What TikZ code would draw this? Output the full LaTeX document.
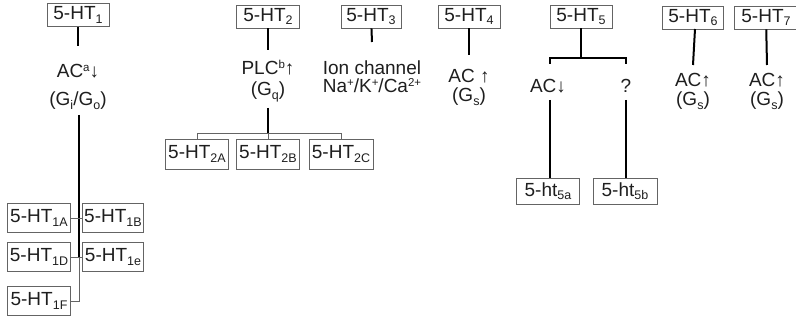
\documentclass[tikz,border=0pt]{standalone}
\usepackage{fontspec}
\setmainfont{Liberation Sans}
\definecolor{boxgray}{RGB}{100,100,100}
\definecolor{inkc}{RGB}{30,30,30}
\newcommand\mysub[1]{\raisebox{-0.35ex}{\fontsize{12.5}{12.5}\selectfont #1}}
\newcommand\mysup[1]{\raisebox{0.6ex}{\fontsize{11.5}{11.5}\selectfont #1}}
\begin{document}
\begin{tikzpicture}[x=1pt,y=-1pt,
  every node/.style={text=inkc},
  rbox/.style={draw=boxgray, line width=0.9pt, inner sep=0pt, minimum height=23pt, font=\fontsize{19}{20}\selectfont},
  lbox/.style={rbox, minimum height=29pt, minimum width=63pt},
  lab/.style={inner sep=0pt, font=\fontsize{19}{20}\selectfont, align=center},
  stem/.style={draw=black, line width=2pt},
  thinl/.style={draw=boxgray, line width=0.9pt}]
\useasboundingbox (0,0) rectangle (796,321);
% ---- top receptor boxes
\node[rbox, minimum width=62pt] (b1) at (78,15) {5-HT\mysub{1}};
\node[rbox, minimum width=63pt] (b2) at (268,16.5) {5-HT\mysub{2}};
\node[rbox, minimum width=60pt] (b3) at (371,16.5) {5-HT\mysub{3}};
\node[rbox, minimum width=62pt] (b4) at (469,16.5) {5-HT\mysub{4}};
\node[rbox, minimum width=62pt] (b5) at (581,16.5) {5-HT\mysub{5}};
\node[rbox, minimum width=61pt] (b6) at (693,17.5) {5-HT\mysub{6}};
\node[rbox, minimum width=64pt] (b7) at (766,17.5) {5-HT\mysub{7}};
% ---- 5-HT1 family
\node[lab] (ac1) at (78,71) {AC\mysup{a}↓};
\node[lab] (g1) at (78,101) {(G\mysub{i}/G\mysub{o})};
\coordinate (s1) at (78,46);
\draw[stem] (b1) -- (s1);
\node[lbox] (h1a) at (39,218) {5-HT\mysub{1A}};
\node[lbox, minimum width=61pt] (h1b) at (113,218) {5-HT\mysub{1B}};
\node[lbox] (h1d) at (39,257) {5-HT\mysub{1D}};
\node[lbox, minimum width=61pt] (h1e) at (113,257) {5-HT\mysub{1e}};
\node[lbox] (h1f) at (39,301) {5-HT\mysub{1F}};
\coordinate (t1) at (79,115);
\coordinate (t2) at (79,257);
\coordinate (t3) at (79,301);
\draw[stem] (t1) -- (t2);
\draw[thinl] (t2) -- (t3) -- (h1f.east);
\draw[thinl] (h1a.east) -- (h1b.west);
\draw[thinl] (h1d.east) -- (h1e.west);
% ---- 5-HT2 family
\node[lab] (plc) at (268,68) {PLC\mysup{b}↑};
\node[lab] (gq) at (268,92) {(G\mysub{q})};
\coordinate (s2) at (268,50);
\draw[stem] (b2) -- (s2);
\node[rbox, minimum width=63pt, minimum height=30pt] (h2a) at (197,154) {5-HT\mysub{2A}};
\node[rbox, minimum width=63pt, minimum height=30pt] (h2b) at (268,154) {5-HT\mysub{2B}};
\node[rbox, minimum width=64pt, minimum height=30pt] (h2c) at (341,154) {5-HT\mysub{2C}};
\coordinate (u2) at (268,108);
\coordinate (k2) at (268,133);
\coordinate (k2l) at (197,133);
\coordinate (k2r) at (341,133);
\draw[stem] (u2) -- (k2);
\draw[thinl] (h2a.north) -- (k2l) -- (k2r) -- (h2c.north);
\draw[thinl] (k2) -- (h2b.north);
% ---- 5-HT3
\node[lab] (ion) at (372,77) {Ion channel\\[-2pt]Na\mysup{+}/K\mysup{+}/Ca\mysup{2+}};
\coordinate (s3) at (372,42);
\draw[stem] (b3) -- (s3);
% ---- 5-HT4
\node[lab] (ac4) at (469,76) {AC ↑};
\node[lab] (g4) at (469,97) {(G\mysub{s})};
\coordinate (s4) at (469,55);
\draw[stem] (b4) -- (s4);
% ---- 5-HT5
\coordinate (s5) at (581,58);
\coordinate (k5l) at (550,58);
\coordinate (k5r) at (626,58);
\coordinate (k5ld) at (550,64);
\coordinate (k5rd) at (626,64);
\draw[stem] (b5) -- (s5);
\draw[stem] (k5ld) -- (k5l) -- (k5r) -- (k5rd);
\node[lab] (ac5) at (548,86) {AC↓};
\node[lab] (q5) at (626,86) {?};
\node[rbox, minimum width=63pt, minimum height=26pt] (h5a) at (548,191) {5-ht\mysub{5a}};
\node[rbox, minimum width=64pt, minimum height=26pt] (h5b) at (625,191) {5-ht\mysub{5b}};
\coordinate (v5a) at (550,100);
\coordinate (v5b) at (626,100);
\draw[stem] (v5a) -- (v5a |- h5a.north);
\draw[stem] (v5b) -- (v5b |- h5b.north);
% ---- 5-HT6
\node[lab] (ac6) at (693,80) {AC↑};
\node[lab] (g6) at (693,101) {(G\mysub{s})};
\coordinate (s6t) at (695,29);
\coordinate (s6) at (693,65);
\draw[stem] (s6t) -- (s6);
% ---- 5-HT7
\node[lab] (ac7) at (767,80) {AC↑};
\node[lab] (g7) at (767,101) {(G\mysub{s})};
\coordinate (s7) at (767,65);
\draw[stem] (b7) -- (s7);
\end{tikzpicture}
\end{document}
